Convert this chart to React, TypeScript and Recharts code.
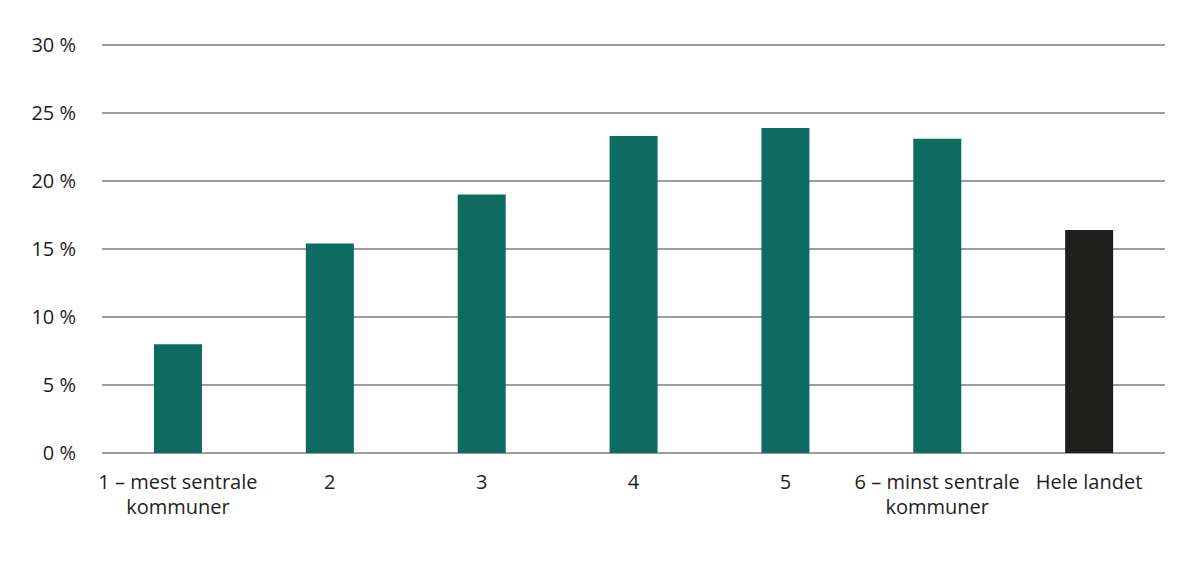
import React from "react";
import { BarChart, Bar, XAxis, YAxis, CartesianGrid, Cell } from "recharts";

const categories = [
  "1 – mest sentrale kommuner",
  "2",
  "3",
  "4",
  "5",
  "6 – minst sentrale kommuner",
  "Hele landet",
];
const values = [8.0, 15.4, 19.0, 23.3, 23.9, 23.1, 16.4];
const barColors = ["#0e6b62", "#0e6b62", "#0e6b62", "#0e6b62", "#0e6b62", "#0e6b62", "#1f1f1d"];
const yTicks = [0, 5, 10, 15, 20, 25, 30];

const data = categories.map((c, i) => ({ name: c, value: values[i] }));

const splitLabel = (s: string): string[] => {
  const idx = s.indexOf(" kommuner");
  if (idx > 0) return [s.slice(0, idx), s.slice(idx + 1)];
  return [s];
};

const XTick = (props: any) => {
  const { x, y, payload } = props;
  const lines = splitLabel(String(payload.value));
  return (
    <g transform={`translate(${x},${y})`}>
      <text textAnchor="middle" fill="#1e1e1e" fontSize={20} fontFamily="'Open Sans', sans-serif">
        {lines.map((l, i) => (
          <tspan key={i} x={0} y={28 + i * 25}>
            {l}
          </tspan>
        ))}
      </text>
    </g>
  );
};

export default function App() {
  return (
    <div style={{ width: 1200, height: 568, fontFamily: "'Open Sans', sans-serif" }}>
      <BarChart
        width={1200}
        height={568}
        data={data}
        margin={{ top: 37, right: 43, left: 0, bottom: 63 }}
      >
        <CartesianGrid vertical={false} stroke="#3a3a3a" strokeWidth={1} />
        <XAxis
          dataKey="name"
          axisLine={false}
          tickLine={false}
          interval={0}
          height={60}
          tick={<XTick />}
        />
        <YAxis
          width={94}
          domain={[0, 30]}
          ticks={yTicks}
          axisLine={false}
          tickLine={false}
          tickMargin={20}
          tickFormatter={(v: number) => `${v} %`}
          tick={{ fill: "#1e1e1e", fontSize: 20, fontFamily: "'Open Sans', sans-serif" }}
        />
        <Bar dataKey="value" barSize={48} isAnimationActive={false}>
          {data.map((d, i) => (
            <Cell key={d.name} fill={barColors[i]} />
          ))}
        </Bar>
      </BarChart>
    </div>
  );
}
